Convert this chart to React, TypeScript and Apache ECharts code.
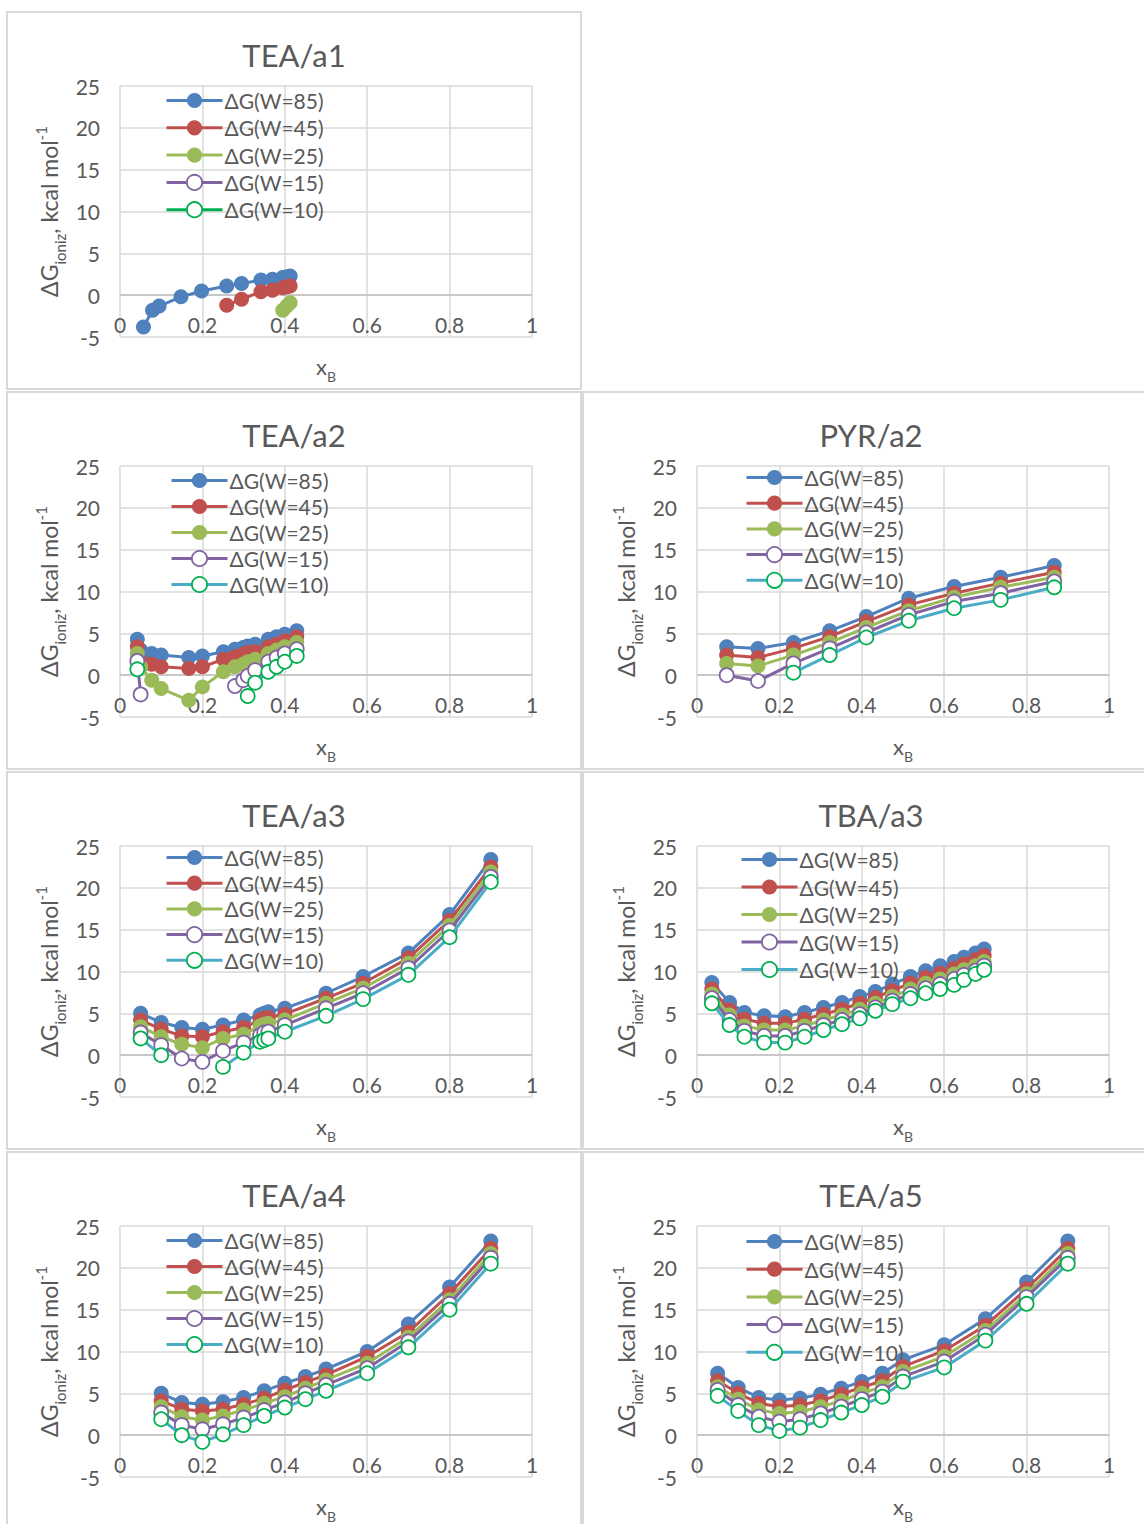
import React, { useEffect, useRef } from "react";
import * as echarts from "echarts";

const SERIES_NAMES = ["ΔG(W=85)", "ΔG(W=45)", "ΔG(W=25)", "ΔG(W=15)", "ΔG(W=10)"];
const X_TICKS = [0, 0.2, 0.4, 0.6, 0.8, 1];
const Y_TICKS = [-5, 0, 5, 10, 15, 20, 25];

// TEA/a1
const TEA_A1_X = [0.057, 0.079, 0.095, 0.148, 0.198, 0.259, 0.295, 0.342, 0.37, 0.395, 0.405, 0.413];
const TEA_A1_W85 = [-3.8, -1.8, -1.3, -0.2, 0.5, 1.1, 1.4, 1.8, 1.9, 2.1, 2.2, 2.3];
const TEA_A1_W45 = [null, null, null, null, null, -1.2, -0.5, 0.4, 0.6, 0.9, 1.0, 1.1];
const TEA_A1_W25 = [null, null, null, null, null, null, null, null, null, -1.8, -1.3, -0.9];
const TEA_A1_W15 = [null, null, null, null, null, null, null, null, null, null, null, null];
const TEA_A1_W10 = [null, null, null, null, null, null, null, null, null, null, null, null];

// TEA/a2
const TEA_A2_X = [0.042, 0.05, 0.077, 0.1, 0.167, 0.2, 0.251, 0.279, 0.299, 0.31, 0.328, 0.36, 0.38, 0.4, 0.429];
const TEA_A2_W85 = [4.3, 3.0, 2.6, 2.4, 2.1, 2.3, 2.8, 3.1, 3.3, 3.5, 3.7, 4.3, 4.6, 4.9, 5.3];
const TEA_A2_W45 = [3.4, 1.6, 1.3, 1.0, 0.8, 1.0, 1.9, 2.2, 2.5, 2.7, 2.8, 3.4, 3.7, 4.1, 4.6];
const TEA_A2_W25 = [2.6, 1.0, -0.6, -1.6, -3.0, -1.4, 0.4, 1.0, 1.3, 1.6, 1.9, 2.6, 3.0, 3.4, 3.9];
const TEA_A2_W15 = [1.7, -2.3, null, null, null, null, null, -1.3, -0.6, -0.1, 0.6, 1.6, 2.1, 2.6, 3.1];
const TEA_A2_W10 = [0.7, null, null, null, null, null, null, null, null, -2.5, -0.9, 0.4, 1.0, 1.6, 2.3];

// PYR/a2
const PYR_A2_X = [0.072, 0.148, 0.234, 0.322, 0.411, 0.514, 0.624, 0.737, 0.867];
const PYR_A2_W85 = [3.4, 3.2, 3.9, 5.3, 7.0, 9.2, 10.6, 11.7, 13.1];
const PYR_A2_W45 = [2.4, 2.1, 3.2, 4.6, 6.4, 8.4, 9.8, 11.0, 12.3];
const PYR_A2_W25 = [1.4, 1.1, 2.4, 3.9, 5.7, 7.7, 9.3, 10.5, 11.7];
const PYR_A2_W15 = [0.0, -0.7, 1.4, 3.2, 5.1, 7.2, 8.8, 9.8, 11.2];
const PYR_A2_W10 = [null, null, 0.3, 2.4, 4.5, 6.5, 8.0, 9.0, 10.5];

// TEA/a3
const TEA_A3_X = [0.05, 0.1, 0.15, 0.2, 0.25, 0.3, 0.34, 0.35, 0.36, 0.4, 0.5, 0.59, 0.7, 0.8, 0.9];
const TEA_A3_W85 = [5.0, 3.9, 3.3, 3.1, 3.6, 4.2, 4.8, 5.0, 5.2, 5.6, 7.4, 9.4, 12.2, 16.8, 23.4];
const TEA_A3_W45 = [4.2, 3.1, 2.3, 2.2, 2.8, 3.3, 4.2, 4.4, 4.5, 4.9, 6.8, 8.6, 11.6, 16.1, 22.5];
const TEA_A3_W25 = [3.4, 2.2, 1.3, 0.9, 2.0, 2.5, 3.5, 3.7, 3.8, 4.2, 6.2, 8.0, 11.0, 15.5, 21.9];
const TEA_A3_W15 = [2.7, 1.2, -0.4, -0.8, 0.5, 1.5, 2.4, 2.7, 2.8, 3.6, 5.6, 7.4, 10.4, 14.9, 21.3];
const TEA_A3_W10 = [2.0, 0.0, null, null, -1.4, 0.3, 1.6, 1.8, 2.0, 2.8, 4.7, 6.7, 9.6, 14.1, 20.7];

// TBA/a3
const TBA_A3_X = [0.036, 0.079, 0.115, 0.163, 0.214, 0.261, 0.307, 0.352, 0.395, 0.433, 0.474, 0.518, 0.555, 0.59, 0.624, 0.648, 0.676, 0.697];
const TBA_A3_W85 = [8.7, 6.3, 5.1, 4.7, 4.6, 5.1, 5.7, 6.3, 7.0, 7.6, 8.5, 9.4, 10.1, 10.7, 11.2, 11.7, 12.2, 12.7];
const TBA_A3_W45 = [7.9, 5.4, 4.3, 3.8, 3.8, 4.3, 4.9, 5.5, 6.2, 6.9, 7.7, 8.6, 9.3, 9.8, 10.4, 10.9, 11.4, 11.9];
const TBA_A3_W25 = [7.3, 4.8, 3.5, 3.0, 3.0, 3.5, 4.2, 4.8, 5.5, 6.2, 7.0, 7.9, 8.6, 9.1, 9.7, 10.2, 10.7, 11.2];
const TBA_A3_W15 = [6.8, 4.2, 2.9, 2.3, 2.3, 2.9, 3.6, 4.2, 4.9, 5.7, 6.5, 7.3, 8.0, 8.5, 9.1, 9.6, 10.1, 10.7];
const TBA_A3_W10 = [6.2, 3.6, 2.2, 1.5, 1.5, 2.2, 3.0, 3.7, 4.4, 5.3, 6.1, 6.8, 7.4, 7.9, 8.4, 9.0, 9.7, 10.2];

// TEA/a4
const TEA_A4_X = [0.1, 0.15, 0.2, 0.25, 0.3, 0.35, 0.4, 0.45, 0.5, 0.6, 0.7, 0.8, 0.9];
const TEA_A4_W85 = [5.0, 3.9, 3.7, 4.0, 4.5, 5.3, 6.2, 7.0, 7.9, 10.0, 13.3, 17.7, 23.2];
const TEA_A4_W45 = [4.1, 3.1, 2.9, 3.1, 3.7, 4.4, 5.4, 6.3, 7.2, 9.4, 12.3, 16.9, 22.3];
const TEA_A4_W25 = [3.4, 2.2, 1.8, 2.3, 3.0, 3.8, 4.6, 5.6, 6.6, 8.6, 11.7, 16.2, 21.7];
const TEA_A4_W15 = [2.7, 1.2, 0.7, 1.3, 2.1, 3.0, 3.9, 5.0, 6.0, 8.0, 11.2, 15.7, 21.2];
const TEA_A4_W10 = [1.9, 0.0, -0.8, 0.1, 1.2, 2.3, 3.3, 4.3, 5.3, 7.4, 10.5, 15.0, 20.5];

// TEA/a5
const TEA_A5_X = [0.05, 0.1, 0.15, 0.2, 0.25, 0.3, 0.35, 0.4, 0.45, 0.5, 0.6, 0.7, 0.8, 0.9];
const TEA_A5_W85 = [7.4, 5.7, 4.5, 4.2, 4.4, 4.9, 5.6, 6.4, 7.4, 9.0, 10.8, 13.9, 18.3, 23.2];
const TEA_A5_W45 = [6.5, 5.0, 3.8, 3.4, 3.6, 4.1, 4.9, 5.7, 6.5, 8.2, 10.1, 13.1, 17.5, 22.3];
const TEA_A5_W25 = [5.8, 4.3, 3.0, 2.6, 2.8, 3.4, 4.1, 5.0, 5.8, 7.6, 9.4, 12.5, 16.9, 21.7];
const TEA_A5_W15 = [5.4, 3.6, 2.2, 1.6, 1.9, 2.6, 3.4, 4.3, 5.2, 7.0, 8.8, 12.0, 16.5, 21.2];
const TEA_A5_W10 = [4.7, 2.9, 1.2, 0.5, 0.9, 1.8, 2.7, 3.6, 4.6, 6.4, 8.1, 11.3, 15.7, 20.5];

const FONT = "Lato, 'Noto Sans', sans-serif";
const TXT = "#595959";

type Panel = {
  title: string;
  col: number;
  row: number;
  xs: number[];
  vals: (number | null)[][];
  w10Line: string;
  legLeft: number;
  legTop: number;
  legGap: number;
};

const PANELS: Panel[] = [
  { title: "TEA/a1", col: 0, row: 0, xs: TEA_A1_X, vals: [TEA_A1_W85, TEA_A1_W45, TEA_A1_W25, TEA_A1_W15, TEA_A1_W10], w10Line: "#00B050", legLeft: 165, legTop: 90, legGap: 6.3 },
  { title: "TEA/a2", col: 0, row: 1, xs: TEA_A2_X, vals: [TEA_A2_W85, TEA_A2_W45, TEA_A2_W25, TEA_A2_W15, TEA_A2_W10], w10Line: "#4BACC6", legLeft: 170, legTop: 470, legGap: 5 },
  { title: "PYR/a2", col: 1, row: 1, xs: PYR_A2_X, vals: [PYR_A2_W85, PYR_A2_W45, PYR_A2_W25, PYR_A2_W15, PYR_A2_W10], w10Line: "#4BACC6", legLeft: 745, legTop: 467, legGap: 4.7 },
  { title: "TEA/a3", col: 0, row: 2, xs: TEA_A3_X, vals: [TEA_A3_W85, TEA_A3_W45, TEA_A3_W25, TEA_A3_W15, TEA_A3_W10], w10Line: "#4BACC6", legLeft: 165, legTop: 847, legGap: 4.7 },
  { title: "TBA/a3", col: 1, row: 2, xs: TBA_A3_X, vals: [TBA_A3_W85, TBA_A3_W45, TBA_A3_W25, TBA_A3_W15, TBA_A3_W10], w10Line: "#4BACC6", legLeft: 740, legTop: 849, legGap: 6.5 },
  { title: "TEA/a4", col: 0, row: 3, xs: TEA_A4_X, vals: [TEA_A4_W85, TEA_A4_W45, TEA_A4_W25, TEA_A4_W15, TEA_A4_W10], w10Line: "#4BACC6", legLeft: 165, legTop: 1230, legGap: 5 },
  { title: "TEA/a5", col: 1, row: 3, xs: TEA_A5_X, vals: [TEA_A5_W85, TEA_A5_W45, TEA_A5_W25, TEA_A5_W15, TEA_A5_W10], w10Line: "#4BACC6", legLeft: 745, legTop: 1231, legGap: 6.7 },
];

const LINE_COLORS = ["#4F81BD", "#C0504D", "#9BBB59", "#8064A2"];
const FILL_COLORS = ["#4F81BD", "#C0504D", "#9BBB59", "#FFFFFF", "#FFFFFF"];
const BORDER_COLORS = ["#4F81BD", "#C0504D", "#9BBB59", "#8064A2", "#00B050"];

function buildOption() {
  const grid: any[] = [];
  const xAxis: any[] = [];
  const yAxis: any[] = [];
  const series: any[] = [];
  const legend: any[] = [];
  const graphic: any[] = [];

  const frames = [
    [7, 12, 574, 377],
    [7, 392, 574, 377],
    [583, 392, 580, 377],
    [7, 772, 574, 377],
    [583, 772, 580, 377],
    [7, 1152, 574, 390],
    [583, 1152, 580, 390],
  ];
  frames.forEach((f) => {
    graphic.push({
      type: "rect",
      shape: { x: f[0], y: f[1], width: f[2], height: f[3] },
      style: { fill: "none", stroke: "#D9D9D9", lineWidth: 2 },
      silent: true,
    });
  });

  PANELS.forEach((p, i) => {
    const left = p.col === 0 ? 120 : 697;
    const top = 86 + 380 * p.row;
    const width = 412;
    const height = 251;
    grid.push({ left, top, width, height, containLabel: false });
    graphic.push({
      type: "text",
      x: left + width / 2 - 32,
      y: top - 31,
      style: {
        text: p.title,
        fill: TXT,
        font: `31px ${FONT}`,
        textAlign: "center",
        textVerticalAlign: "middle",
      },
      silent: true,
    });
    xAxis.push({
      type: "value",
      gridIndex: i,
      min: 0,
      max: 1,
      interval: 0.2,
      axisLine: { show: false, onZero: false },
      axisTick: { show: false },
      axisLabel: {
        color: TXT,
        fontFamily: FONT,
        fontSize: 21,
        margin: -23,
        formatter: (v: number) => String(+v.toFixed(1)),
      },
      splitLine: { show: true, lineStyle: { color: "#D9D9D9", width: 1.5 } },
      name: "{x|x}{b|B}",
      nameLocation: "middle",
      nameGap: 17,
      nameTextStyle: {
        rich: {
          x: { fontSize: 22, fontFamily: FONT, color: TXT, lineHeight: 24, verticalAlign: "middle" },
          b: { fontSize: 14, fontFamily: FONT, color: TXT, lineHeight: 24, verticalAlign: "bottom", padding: [0, 0, -5, 0] },
        },
      },
    });
    yAxis.push({
      type: "value",
      gridIndex: i,
      min: -5,
      max: 25,
      interval: 5,
      axisLine: { show: false },
      axisTick: { show: false },
      axisLabel: { color: TXT, fontFamily: FONT, fontSize: 21, margin: 20 },
      splitLine: { show: true, lineStyle: { color: "#D9D9D9", width: 1.5 } },
      name: "{a|ΔG}{s|ioniz}{a|, kcal mol}{p|-1}",
      nameLocation: "middle",
      nameGap: 57,
      nameRotate: 90,
      nameTextStyle: {
        rich: {
          a: { fontSize: 23, fontFamily: FONT, color: TXT, lineHeight: 28, verticalAlign: "middle" },
          s: { fontSize: 15, fontFamily: FONT, color: TXT, lineHeight: 28, verticalAlign: "bottom", padding: [0, 0, -4, 0] },
          p: { fontSize: 15, fontFamily: FONT, color: TXT, lineHeight: 28, verticalAlign: "top", padding: [-2, 0, 0, 0] },
        },
      },
    });
    const legendData: any[] = [];
    p.vals.forEach((vals, k) => {
      const name = SERIES_NAMES[k];
      const lineColor = k === 4 ? p.w10Line : LINE_COLORS[k];
      legendData.push({
        name,
        lineStyle: { color: lineColor, width: 3 },
        itemStyle: { color: FILL_COLORS[k], borderColor: BORDER_COLORS[k], borderWidth: k >= 3 ? 1.8 : 0 },
      });
      const s: any = {
        type: "line",
        name,
        xAxisIndex: i,
        yAxisIndex: i,
        data: p.xs.map((x, j) => [x, vals[j] == null ? "-" : vals[j]]),
        connectNulls: false,
        showAllSymbol: true,
        symbol: "circle",
        symbolSize: k >= 3 ? 14 : 15,
        color: lineColor,
        lineStyle: { color: lineColor, width: 3 },
        itemStyle: {
          color: FILL_COLORS[k],
          borderColor: BORDER_COLORS[k],
          borderWidth: k >= 3 ? 1.8 : 0,
        },
        emphasis: { disabled: true },
        z: 3 + k,
      };
      if (k === 0) {
        s.markLine = {
          silent: true,
          symbol: "none",
          label: { show: false },
          lineStyle: { color: "#BFBFBF", width: 1.5, type: "solid" },
          data: [{ yAxis: 0 }],
          z: 2,
        };
      }
      series.push(s);
    });
    legend.push({
      data: legendData,
      orient: "vertical",
      left: p.legLeft,
      top: p.legTop,
      itemWidth: 56,
      itemHeight: 19,
      itemGap: p.legGap,
      padding: 0,
      selectedMode: false,
      lineStyle: { width: 3 },
      textStyle: { color: TXT, fontFamily: FONT, fontSize: 21, lineHeight: 20, padding: [0, 0, 0, -3] },
    });
  });

  return {
    animation: false,
    backgroundColor: "#FFFFFF",
    grid,
    xAxis,
    yAxis,
    series,
    legend,
    graphic,
  };
}

export default function App() {
  const ref = useRef<HTMLDivElement>(null);
  useEffect(() => {
    if (!ref.current) return;
    const chart = echarts.init(ref.current, null, { renderer: "svg" });
    chart.setOption(buildOption() as any);
    return () => chart.dispose();
  }, []);
  return (
    <div
      ref={ref}
      style={{ position: "absolute", left: 0, top: 0, width: 1144, height: 1524, background: "#fff" }}
    />
  );
}
